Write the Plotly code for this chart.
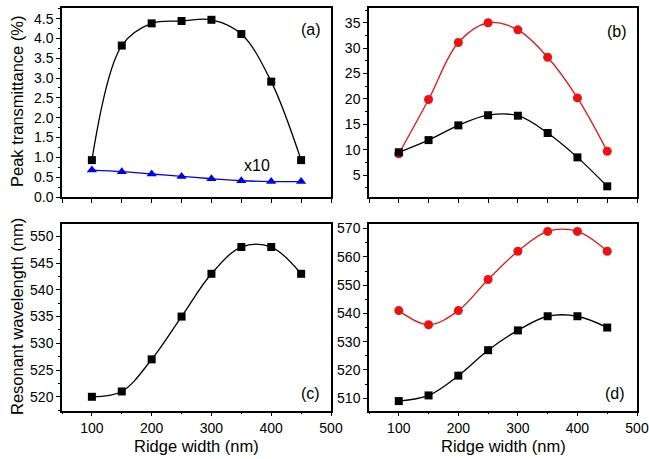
import plotly.graph_objects as go

ridge_width = [100, 150, 200, 250, 300, 350, 400, 450]

# (a) peak transmittance (%)
a_black = [0.93, 3.82, 4.38, 4.44, 4.47, 4.11, 2.91, 0.93]
a_blue_x10 = [0.68, 0.64, 0.58, 0.52, 0.46, 0.41, 0.39, 0.39]

# (b) peak transmittance
b_red = [9.2, 19.9, 31.1, 35.0, 33.6, 28.2, 20.2, 9.7]
b_black = [9.5, 11.9, 14.8, 16.8, 16.7, 13.3, 8.5, 2.8]

# (c) resonant wavelength (nm)
c_black = [520, 521, 527, 535, 543, 548, 548, 543]

# (d) resonant wavelength (nm)
d_red = [541, 536, 541, 552, 562, 569, 569, 562]
d_black = [509, 511, 518, 527, 534, 539, 539, 535]

FONT = "Liberation Sans, Arial, sans-serif"
RED = "#ee1111"
BLUE = "#0000ee"

fig = go.Figure()

def add(xa, ya, y, color, symbol, size=8):
    fig.add_trace(go.Scatter(
        x=ridge_width, y=y, xaxis=xa, yaxis=ya, mode="lines+markers",
        line=dict(color=color, width=1.3, shape="spline", smoothing=1.0),
        marker=dict(symbol=symbol, size=size, color=color),
        showlegend=False, cliponaxis=False))

add("x", "y", a_black, "black", "square")
add("x", "y", a_blue_x10, BLUE, "triangle-up", 9)
add("x2", "y2", b_red, RED, "circle", 9)
add("x2", "y2", b_black, "black", "square")
add("x3", "y3", c_black, "black", "square")
add("x4", "y4", d_red, RED, "circle", 9)
add("x4", "y4", d_black, "black", "square")

W, H = 649, 459
xa_dom = [62 / W, 331 / W]
xb_dom = [369 / W, 637 / W]
ytop_dom = [1 - 197 / H, 1 - 7.5 / H]
ybot_dom = [1 - 410.7 / H, 1 - 223.5 / H]

common = dict(showline=True, linecolor="black", linewidth=1.5, mirror=True,
              ticks="outside", tickcolor="black", tickwidth=1.2,
              showgrid=False, zeroline=False,
              tickfont=dict(family=FONT, size=14, color="black"))

def xtop(anchor, dom):
    return dict(common, domain=dom, anchor=anchor, range=[50, 500],
                tick0=0, dtick=50, ticklen=4, showticklabels=False)

def xbot(anchor, dom):
    return dict(common, domain=dom, anchor=anchor, range=[50, 500],
                tick0=0, dtick=100, ticklen=4,
                minor=dict(ticks="outside", dtick=50, tick0=0, ticklen=2,
                           tickcolor="black", tickwidth=1.2))

def yax(anchor, dom, rng, dtick, mdtick, fmt=None):
    d = dict(common, domain=dom, anchor=anchor, range=rng, tick0=0,
             dtick=dtick, ticklen=4,
             minor=dict(ticks="outside", dtick=mdtick, tick0=0, ticklen=2,
                        tickcolor="black", tickwidth=1.2))
    if fmt:
        d["tickformat"] = fmt
    return d

fig.update_layout(
    width=W, height=H, margin=dict(l=0, r=0, t=0, b=0, autoexpand=False),
    paper_bgcolor="white", plot_bgcolor="white",
    font=dict(family=FONT, color="black"),
    xaxis=xtop("y", xa_dom),
    xaxis2=xtop("y2", xb_dom),
    xaxis3=xbot("y3", xa_dom),
    xaxis4=xbot("y4", xb_dom),
    yaxis=yax("x", ytop_dom, [0, 4.78], 0.5, 0.25, ".1f"),
    yaxis2=yax("x2", ytop_dom, [0.7, 38], 5, 2.5),
    yaxis3=yax("x3", ybot_dom, [517.4, 552.4], 5, 2.5),
    yaxis4=yax("x4", ybot_dom, [505.6, 571.8], 10, 5),
)

ann = []
def label(text, xref, yref, x, y, size=16, angle=0):
    ann.append(dict(text=text, xref=xref, yref=yref, x=x, y=y,
                    xanchor="center", yanchor="middle", textangle=angle,
                    showarrow=False, font=dict(family=FONT, size=size, color="black")))

label("(a)", "x", "y", 466, 4.23)
label("x10", "x", "y", 377, 0.8)
label("(b)", "x2", "y2", 467, 33.2)
label("(c)", "x3", "y3", 465, 520.7)
label("(d)", "x4", "y4", 463, 511.8)

# axis titles
label("Peak transmittance (%)", "paper", "paper", 17 / W, 1 - 102 / H, size=16.5, angle=-90)
label("Resonant wavelength (nm)", "paper", "paper", 17 / W, 1 - 317 / H, size=16.5, angle=-90)
label("Ridge width (nm)", "paper", "paper", 196 / W, 1 - 446 / H, size=16.5)
label("Ridge width (nm)", "paper", "paper", 503 / W, 1 - 446 / H, size=16.5)
fig.update_layout(annotations=ann)

fig.write_html("out.html", config={"displayModeBar": False},
               post_script="document.body.style.margin='0px';document.body.style.overflow='hidden';")
